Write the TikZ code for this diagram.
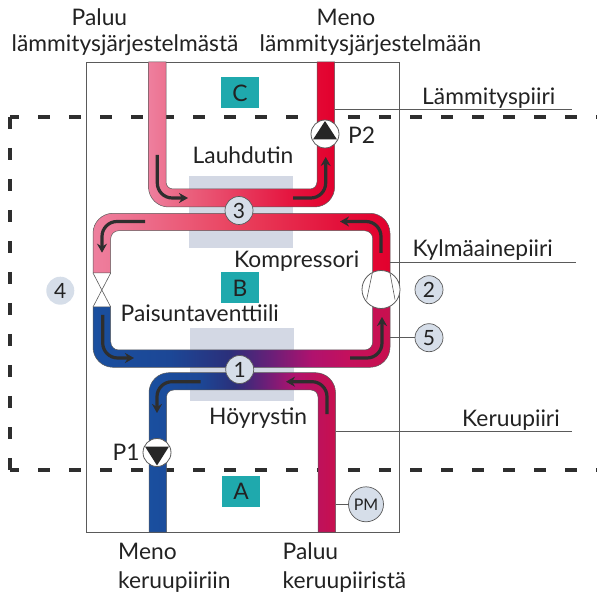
\documentclass[tikz,border=0pt]{standalone}
\usepackage{fontspec}
\setmainfont{Lato}
\usepackage{tikz}
\usetikzlibrary{arrows.meta, positioning, shapes.geometric, calc}

\definecolor{linegray}{HTML}{5A5A5A}
\definecolor{dashgray}{HTML}{2E2E2E}
\definecolor{tealbox}{HTML}{1FA9AD}
\definecolor{exchgray}{HTML}{D3D8E4}
\definecolor{circgray}{HTML}{D6DEE9}
\definecolor{textgray}{HTML}{222222}

\definecolor{a1}{HTML}{EE7F9E}\definecolor{a2}{HTML}{EA5F7C}\definecolor{a3}{HTML}{E5153F}\definecolor{a4}{HTML}{E2002D}
\definecolor{b2}{HTML}{EC6C8A}\definecolor{b3}{HTML}{E9405C}\definecolor{b4}{HTML}{E3103A}
\definecolor{c1}{HTML}{1A4F9F}\definecolor{c2}{HTML}{1C4796}\definecolor{c3}{HTML}{2B2F7A}\definecolor{c4}{HTML}{6A1F78}\definecolor{c5}{HTML}{B0126E}\definecolor{c6}{HTML}{C4105C}\definecolor{c7}{HTML}{C8104E}

\pgfdeclarehorizontalshading{heatloop}{100bp}{color(0bp)=(a1); color(25bp)=(a1); color(36.3bp)=(a2); color(63bp)=(a3); color(75bp)=(a4); color(100bp)=(a4)}
\pgfdeclarehorizontalshading{hotloop}{100bp}{color(0bp)=(a1); color(25bp)=(a1); color(33.8bp)=(b2); color(49.7bp)=(b3); color(66.6bp)=(b4); color(75bp)=(a4); color(100bp)=(a4)}
\pgfdeclarehorizontalshading{coldloop}{100bp}{color(0bp)=(c1); color(25bp)=(c1); color(38bp)=(c2); color(48bp)=(c3); color(55bp)=(c4); color(61.9bp)=(c5); color(68bp)=(c6); color(75bp)=(c7); color(100bp)=(c7)}
\pgfdeclarehorizontalshading{groundloop}{100bp}{color(0bp)=(c1); color(25bp)=(c1); color(38.7bp)=(c2); color(48bp)=(c3); color(56bp)=(c4); color(64bp)=(c5); color(75bp)=(c7); color(100bp)=(c7)}

\begin{document}
\begin{tikzpicture}[
            x=1pt, y=-1pt,
            font=\fontsize{22.8}{25}\selectfont,
            txt/.style={anchor=base west, inner sep=0pt, text=textgray},
            pipe/.style={draw=linegray, line width=0.5pt, shade},
            flow/.style={-{Stealth[length=9pt,width=10pt]}, line width=3.2pt, draw=dashgray, rounded corners=15pt},
            dashline/.style={line width=3.4pt, draw=dashgray, dash pattern=on 12pt off 19pt},
            leader/.style={line width=0.8pt, draw=linegray},
            zone/.style={fill=tealbox, minimum width=38pt, minimum height=31pt, inner sep=0pt, text=textgray},
            exch/.style={fill=exchgray},
            tag/.style={circle, draw=linegray, line width=0.7pt, fill=circgray, minimum size=28pt, inner sep=0pt, text=textgray, font=\fontsize{21}{23}\selectfont},
            pump/.style={circle, draw=linegray, line width=0.8pt, fill=white, minimum size=28pt, inner sep=0pt}
        ]
        \useasboundingbox (0,0) rectangle (597,593);

        % dashed frame
        \coordinate (frameTL) at (10,117);
        \coordinate (frameBL) at (10,470);
        \coordinate (frameTR) at (597,117);
        \coordinate (frameBR) at (597,470);
        \draw[dashline, dash phase=3pt] (frameTL) -- (frameTR);
        \draw[dashline, dash phase=3pt] (frameBL) -- (frameBR);
        \draw[dashline] (frameTL) -- (frameBL);

        % outer box
        \draw[linegray, line width=0.9pt] (86.5,62) rectangle (399.5,532);

        % exchangers
        \fill[exch] (189,176) rectangle (293,248);
        \fill[exch] (190,328) rectangle (294,401);

        % zones
        \node[zone] (zoneC) at (240,93) {C};
        \node[zone] (zoneB) at (240,288) {B};
        \node[zone] (zoneA) at (241,491) {A};

        % pipes
        \path[pipe, shading=heatloop] (148.5,62) [rounded corners=20pt] -- (148.5,207) -- (334.6,207) [sharp corners] -- (334.6,62) -- (317,62) [rounded corners=7pt] -- (317,189) -- (166,189) [sharp corners] -- (166,62) -- cycle;
        \path[pipe, shading=hotloop] (93,273) [rounded corners=20pt] -- (93,213.3) -- (390,213.3) [sharp corners] -- (390,275) -- (372.7,275) [rounded corners=8pt] -- (372.7,230.7) -- (110.7,230.7) [sharp corners] -- (110.7,273) -- cycle;
        \path[pipe, shading=coldloop] (93,307) [rounded corners=20pt] -- (93,367.3) -- (390,367.3) [sharp corners] -- (390,305) -- (372.7,305) [rounded corners=8pt] -- (372.7,350) -- (110.7,350) [sharp corners] -- (110.7,307) -- cycle;
        \path[pipe, shading=groundloop] (149,532) [rounded corners=20pt] -- (149,372.7) -- (335.5,372.7) [sharp corners] -- (335.5,532) -- (318,532) [rounded corners=7pt] -- (318,390) -- (166.5,390) [sharp corners] -- (166.5,532) -- cycle;

        % expansion valve
        \coordinate (valveA) at (93,273);
        \coordinate (valveB) at (110.7,273);
        \coordinate (valveC) at (93,307);
        \coordinate (valveD) at (110.7,307);
        \draw[linegray, line width=0.6pt] (valveA) -- (valveD) (valveB) -- (valveC);

        % flow arrows
        \coordinate (heatA) at (157.3,155);  \coordinate (heatB) at (188,198);
        \coordinate (heatC) at (293,198);    \coordinate (heatD) at (325.7,157);
        \coordinate (hotA) at (381,253);     \coordinate (hotB) at (340,221.5);
        \coordinate (hotC) at (145,221.5);   \coordinate (hotD) at (102,252.7);
        \coordinate (coldA) at (102.7,315);  \coordinate (coldB) at (134,358);
        \coordinate (coldC) at (350,358);    \coordinate (coldD) at (382,317);
        \coordinate (groundA) at (327,414);  \coordinate (groundB) at (286,381.7);
        \coordinate (groundC) at (200.7,381.7); \coordinate (groundD) at (157,413);
        \draw[flow] (heatA) |- (heatB);
        \draw[flow] (heatC) -| (heatD);
        \draw[flow] (hotA) |- (hotB);
        \draw[flow] (hotC) -| (hotD);
        \draw[flow] (coldA) |- (coldB);
        \draw[flow] (coldC) -| (coldD);
        \draw[flow] (groundA) |- (groundB);
        \draw[flow] (groundC) -| (groundD);

        % pumps
        \node[pump] (pumpP2) at (325,134) {};
        \fill[black!85] (325,121) -- (337,139.5) -- (313,139.5) -- cycle;
        \node[pump] (pumpP1) at (157,452.5) {};
        \fill[black!85] (157,465.5) -- (145,446.5) -- (169,446.5) -- cycle;

        % compressor
        \node[circle, draw=linegray, line width=0.8pt, fill=white, minimum size=38pt, inner sep=0pt] (compressor) at (381,289.5) {};
        \draw[linegray, line width=0.6pt] (372.3,273) -- (366.7,299.5);
        \draw[linegray, line width=0.6pt] (390,273) -- (395,299.5);

        % number tags
        \node[tag] (tagThree) at (239,210.5) {3};
        \node[tag] (tagOne) at (239.7,369.5) {1};
        \node[tag] (tagTwo) at (429,289.7) {2};
        \node[tag] (tagFive) at (429,337.7) {5};
        \node[tag, draw=none] (tagFour) at (60.3,290.7) {4};
        \node[tag, minimum size=35pt, font=\fontsize{16}{18}\selectfont] (tagPM) at (366,504.3) {PM};

        % leaders
        \coordinate (heatTap) at (334.6,109.5);
        \coordinate (heatEnd) at (572,109.5);
        \coordinate (coolTap) at (390,262);
        \coordinate (coolEnd) at (576,262);
        \coordinate (groundTap) at (335.5,431.7);
        \coordinate (groundEnd) at (572,431.7);
        \coordinate (fiveTap) at (390,337.7);
        \coordinate (pmTap) at (335.5,504.3);
        \draw[leader] (heatTap) -- (heatEnd);
        \draw[leader] (coolTap) -- (coolEnd);
        \draw[leader] (groundTap) -- (groundEnd);
        \draw[leader] (fiveTap) -- (tagFive);
        \draw[leader] (pmTap) -- (tagPM);

        % labels
        \node[txt] (topLeftA) at (71.5,26) {Paluu};
        \node[txt] (topLeftB) at (11.5,51.5) {lämmitysjärjestelmästä};
        \node[txt] (topRightA) at (316.5,26) {Meno};
        \node[txt] (topRightB) at (259.5,51.5) {lämmitysjärjestelmään};
        \node[txt] (heatLabel) at (422,105) {Lämmityspiiri};
        \node[txt] (coolLabel) at (412.5,256.5) {Kylmäainepiiri};
        \node[txt] (groundLabel) at (462,426) {Keruupiiri};
        \node[txt] (p2Label) at (348,144) {P2};
        \node[txt] (condLabel) at (192.5,164) {Lauhdutin};
        \node[txt] (compLabel) at (234,268) {Kompressori};
        \node[txt] (valveLabel) at (120.5,321.7) {Paisuntaventtiili};
        \node[txt] (evapLabel) at (209,424.3) {Höyrystin};
        \node[txt] (p1Label) at (112.5,460) {P1};
        \node[txt] (botLeftA) at (118,559) {Meno};
        \node[txt] (botLeftB) at (118,588) {keruupiiriin};
        \node[txt] (botRightA) at (282.5,559) {Paluu};
        \node[txt] (botRightB) at (282.5,588) {keruupiiristä};

    \end{tikzpicture}
\end{document}
